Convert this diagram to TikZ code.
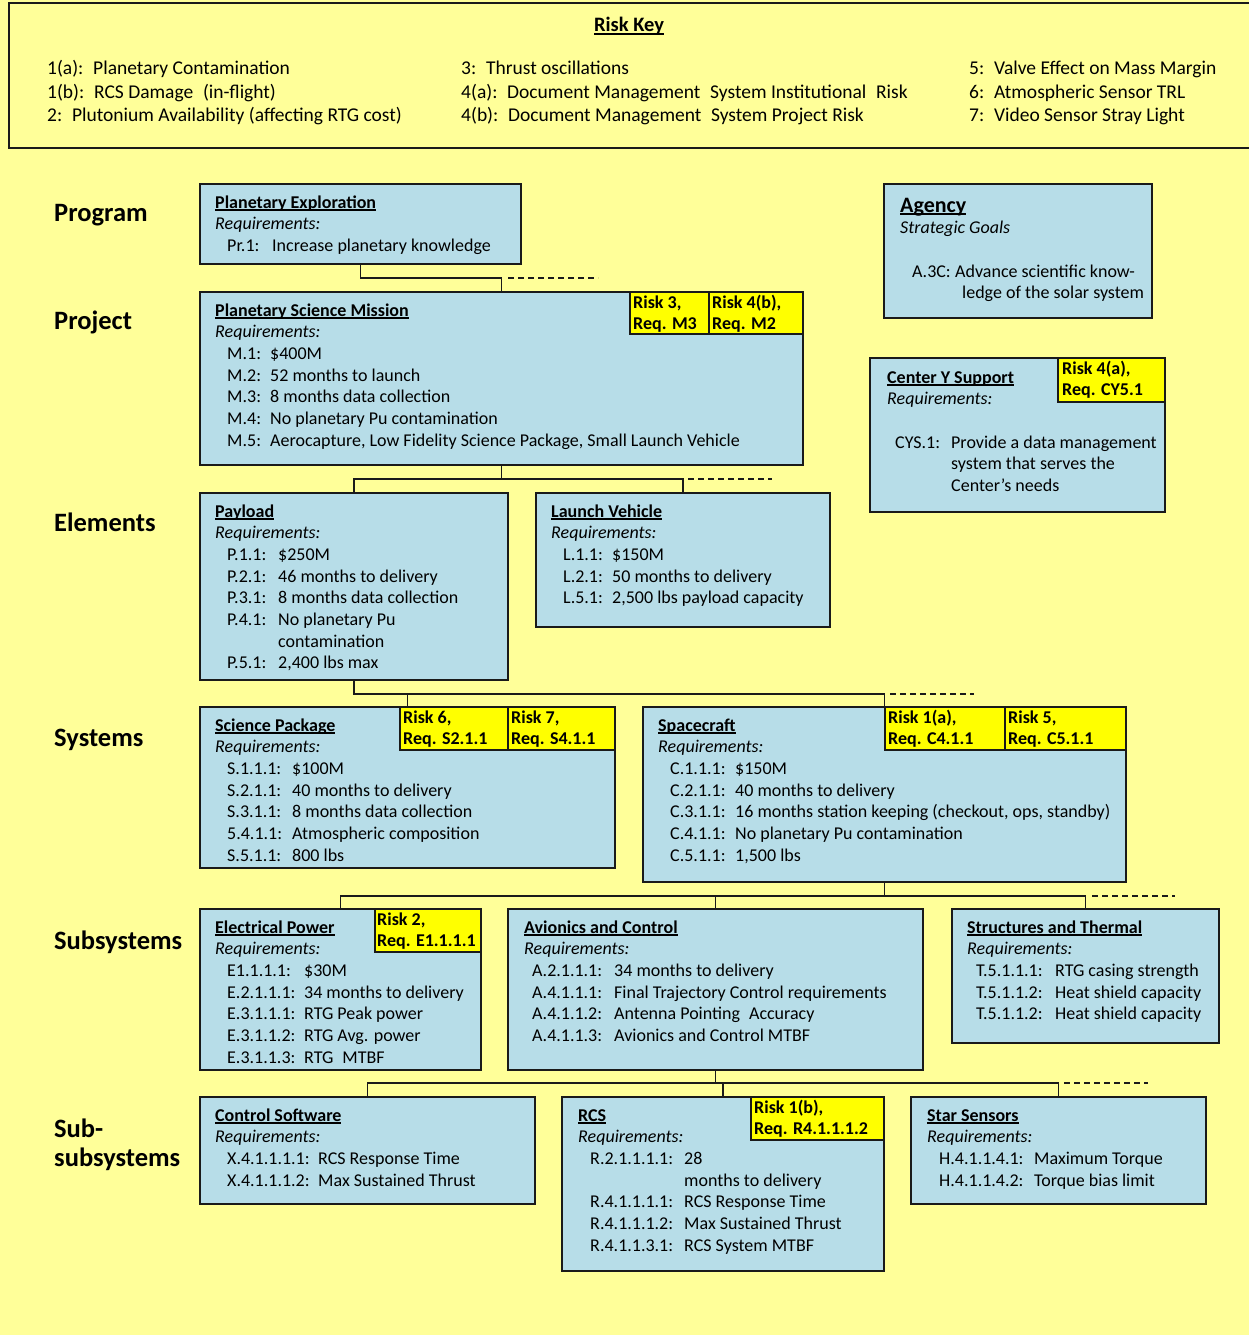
\documentclass[tikz,border=0pt]{standalone}
\usepackage{fontspec}
\setmainfont{Carlito}
\definecolor{bgyellow}{HTML}{FFFF99}
\definecolor{boxblue}{HTML}{B7DDE8}
\definecolor{riskyel}{HTML}{FFFF00}
\definecolor{edge}{HTML}{1A1A1A}
\newcommand\ulb[1]{\setbox0\hbox{\textbf{#1}}\rlap{\rule[-2.6pt]{\wd0}{1.2pt}}\box0}
\newcommand\rqi[4][12pt]{\hspace*{#1}\makebox[#2][l]{#3}#4}
\newcommand\lines[1]{\begin{tabular}[t]{@{}l@{}}#1\end{tabular}}
\newcommand\bodyfs{\fontsize{18}{21.7}\selectfont}
\newcommand\keyfs{\fontsize{19.5}{23.5}\selectfont}
\tikzset{
  box/.style={draw=edge, line width=1.8pt, fill=boxblue, anchor=north west, inner sep=0pt, outer sep=0pt},
  riskbox/.style={box, fill=riskyel},
  txt/.style={anchor=base west, inner sep=0pt, font=\bodyfs},
  keytxt/.style={anchor=base west, inner sep=0pt, font=\keyfs},
  risktxt/.style={anchor=base west, inner sep=0pt, font=\bfseries\fontsize{18}{21}\selectfont},
  lvl/.style={anchor=base west, inner sep=0pt, font=\bfseries\fontsize{26.5}{29}\selectfont},
  conn/.style={draw=edge, line width=1.8pt},
  dashconn/.style={draw=edge, line width=1.8pt, dash pattern=on 6pt off 4pt},
}
\begin{document}
\begin{tikzpicture}[x=1pt,y=-1pt]
\useasboundingbox (0,0) rectangle (1249,1335);
\fill[bgyellow] (0,0) rectangle (1249,1335);

% Risk key
\draw[edge, line width=1.8pt] (1249,3) -- (9,3) -- (9,148) -- (1249,148);
\node[anchor=base, inner sep=0pt, font=\fontsize{20.5}{24}\selectfont] (kt) at (629,32) {\ulb{Risk Key}};
\node[keytxt] (k1) at (47,75) {\lines{1(a):\enspace Planetary Contamination\\1(b):\enspace RCS Damage\enspace(in-flight)\\2:\enspace Plutonium Availability (affecting RTG cost)}};
\node[keytxt] (k2) at (461,75) {\lines{3:\enspace Thrust oscillations\\4(a):\enspace Document Management\enspace System Institutional\enspace Risk\\4(b):\enspace Document Management\enspace System Project Risk}};
\node[keytxt] (k3) at (969,75) {\lines{5:\enspace Valve Effect on Mass Margin\\6:\enspace Atmospheric Sensor TRL\\7:\enspace Video Sensor Stray Light}};

% Level labels
\node[lvl] (l1) at (54,221) {Program};
\node[lvl] (l2) at (54,329) {Project};
\node[lvl] (l3) at (54,531) {Elements};
\node[lvl] (l4) at (54,746) {Systems};
\node[lvl] (l5) at (54,949) {Subsystems};
\node[lvl] (l6) at (54,1137) {\lines{Sub-\\subsystems}};

% Boxes
\node[box, minimum width=321pt, minimum height=80pt] (pe) at (200,184) {};
\node[box, minimum width=603pt, minimum height=173pt] (psm) at (200,292) {};
\node[riskbox, minimum width=79pt, minimum height=42pt] (r3) at (630,292) {};
\node[riskbox, minimum width=94pt, minimum height=42pt] (r4b) at (709,292) {};
\node[box, minimum width=268pt, minimum height=134pt] (ag) at (884,184) {};
\node[box, minimum width=295pt, minimum height=154pt] (cys) at (870,358) {};
\node[riskbox, minimum width=107pt, minimum height=44pt] (r4a) at (1058,358) {};
\node[box, minimum width=308pt, minimum height=187pt] (pay) at (200,493) {};
\node[box, minimum width=294pt, minimum height=134pt] (lv) at (536,493) {};
\node[box, minimum width=415pt, minimum height=161pt] (sp) at (200,707) {};
\node[riskbox, minimum width=108pt, minimum height=43pt] (r6) at (400,707) {};
\node[riskbox, minimum width=107pt, minimum height=43pt] (r7) at (508,707) {};
\node[box, minimum width=483pt, minimum height=175pt] (sc) at (643,707) {};
\node[riskbox, minimum width=120pt, minimum height=43pt] (r1a) at (885,707) {};
\node[riskbox, minimum width=121pt, minimum height=43pt] (r5) at (1005,707) {};
\node[box, minimum width=281pt, minimum height=161pt] (ep) at (200,909) {};
\node[riskbox, minimum width=106pt, minimum height=43pt] (r2) at (375,909) {};
\node[box, minimum width=415pt, minimum height=161pt] (ac) at (508,909) {};
\node[box, minimum width=267pt, minimum height=134pt] (st) at (952,909) {};
\node[box, minimum width=335pt, minimum height=107pt] (cs) at (200,1097) {};
\node[box, minimum width=322pt, minimum height=174pt] (rcs) at (562,1097) {};
\node[riskbox, minimum width=133pt, minimum height=43pt] (r1b) at (751,1097) {};
\node[box, minimum width=295pt, minimum height=107pt] (ss) at (911,1097) {};

% Risk texts
\node[risktxt] (r3-t) at (633,308) {\lines{Risk 3,\\Req. M3}};
\node[risktxt] (r4b-t) at (712,308) {\lines{Risk 4(b),\\Req. M2}};
\node[risktxt] (r4a-t) at (1062,374) {\lines{Risk 4(a),\\Req. CY5.1}};
\node[risktxt] (r6-t) at (403,723) {\lines{Risk 6,\\Req. S2.1.1}};
\node[risktxt] (r7-t) at (511,723) {\lines{Risk 7,\\Req. S4.1.1}};
\node[risktxt] (r1a-t) at (888,723) {\lines{Risk 1(a),\\Req. C4.1.1}};
\node[risktxt] (r5-t) at (1008,723) {\lines{Risk 5,\\Req. C5.1.1}};
\node[risktxt] (r2-t) at (377,925) {\lines{Risk 2,\\Req. E1.1.1.1}};
\node[risktxt] (r1b-t) at (754,1113) {\lines{Risk 1(b),\\Req. R4.1.1.1.2}};

% Box texts
\node[txt] (pe-t) at (215,208) {\lines{\ulb{Planetary Exploration}\\\textit{Requirements:}\\
 \rqi{45pt}{Pr.1:}{Increase planetary knowledge}}};
\node[txt] (psm-t) at (215,316) {\lines{\ulb{Planetary Science Mission}\\\textit{Requirements:}\\
 \rqi{43pt}{M.1:}{\$400M}\\
 \rqi{43pt}{M.2:}{52 months to launch}\\
 \rqi{43pt}{M.3:}{8 months data collection}\\
 \rqi{43pt}{M.4:}{No planetary Pu contamination}\\
 \rqi{43pt}{M.5:}{Aerocapture, Low Fidelity Science Package, Small Launch Vehicle}}};
\node[txt] (ag-t) at (900,212) {\lines{{\fontsize{22}{22}\selectfont\ulb{Agency}}\\\textit{Strategic Goals}\\ \\
 \rqi{43pt}{A.3C:}{Advance scientific know-}\\
 \rqi{50pt}{}{ledge of the solar system}}};
\node[txt] (cys-t) at (887,383) {\lines{\ulb{Center Y Support}\\\textit{Requirements:}\\ \\
 \rqi[8pt]{56pt}{CYS.1:}{Provide a data management}\\
 \rqi[8pt]{56pt}{}{system that serves the}\\
 \rqi[8pt]{56pt}{}{Center’s needs}}};
\node[txt] (pay-t) at (215,517) {\lines{\ulb{Payload}\\\textit{Requirements:}\\
 \rqi{51pt}{P.1.1:}{\$250M}\\
 \rqi{51pt}{P.2.1:}{46 months to delivery}\\
 \rqi{51pt}{P.3.1:}{8 months data collection}\\
 \rqi{51pt}{P.4.1:}{No planetary Pu}\\
 \rqi{51pt}{}{contamination}\\
 \rqi{51pt}{P.5.1:}{2,400 lbs max}}};
\node[txt] (lv-t) at (551,517) {\lines{\ulb{Launch Vehicle}\\\textit{Requirements:}\\
 \rqi{49pt}{L.1.1:}{\$150M}\\
 \rqi{49pt}{L.2.1:}{50 months to delivery}\\
 \rqi{49pt}{L.5.1:}{2,500 lbs payload capacity}}};
\node[txt] (sp-t) at (215,731) {\lines{\ulb{Science Package}\\\textit{Requirements:}\\
 \rqi{65pt}{S.1.1.1:}{\$100M}\\
 \rqi{65pt}{S.2.1.1:}{40 months to delivery}\\
 \rqi{65pt}{S.3.1.1:}{8 months data collection}\\
 \rqi{65pt}{5.4.1.1:}{Atmospheric composition}\\
 \rqi{65pt}{S.5.1.1:}{800 lbs}}};
\node[txt] (sc-t) at (658,731) {\lines{\ulb{Spacecraft}\\\textit{Requirements:}\\
 \rqi{65pt}{C.1.1.1:}{\$150M}\\
 \rqi{65pt}{C.2.1.1:}{40 months to delivery}\\
 \rqi{65pt}{C.3.1.1:}{16 months station keeping (checkout, ops, standby)}\\
 \rqi{65pt}{C.4.1.1:}{No planetary Pu contamination}\\
 \rqi{65pt}{C.5.1.1:}{1,500 lbs}}};
\node[txt] (ep-t) at (215,933) {\lines{\ulb{Electrical Power}\\\textit{Requirements:}\\
 \rqi{77pt}{E1.1.1.1:}{\$30M}\\
 \rqi{77pt}{E.2.1.1.1:}{34 months to delivery}\\
 \rqi{77pt}{E.3.1.1.1:}{RTG Peak power}\\
 \rqi{77pt}{E.3.1.1.2:}{RTG Avg. power}\\
 \rqi{77pt}{E.3.1.1.3:}{RTG\enspace MTBF}}};
\node[txt] (ac-t) at (524,933) {\lines{\ulb{Avionics and Control}\\\textit{Requirements:}\\
 \rqi[8pt]{82pt}{A.2.1.1.1:}{34 months to delivery}\\
 \rqi[8pt]{82pt}{A.4.1.1.1:}{Final Trajectory Control requirements}\\
 \rqi[8pt]{82pt}{A.4.1.1.2:}{Antenna Pointing\enspace Accuracy}\\
 \rqi[8pt]{82pt}{A.4.1.1.3:}{Avionics and Control MTBF}}};
\node[txt] (st-t) at (967,933) {\lines{\ulb{Structures and Thermal}\\\textit{Requirements:}\\
 \rqi[9pt]{79pt}{T.5.1.1.1:}{RTG casing strength}\\
 \rqi[9pt]{79pt}{T.5.1.1.2:}{Heat shield capacity}\\
 \rqi[9pt]{79pt}{T.5.1.1.2:}{Heat shield capacity}}};
\node[txt] (cs-t) at (215,1121) {\lines{\ulb{Control Software}\\\textit{Requirements:}\\
 \rqi{91pt}{X.4.1.1.1.1:}{RCS Response Time}\\
 \rqi{91pt}{X.4.1.1.1.2:}{Max Sustained Thrust}}};
\node[txt] (rcs-t) at (578,1121) {\lines{\ulb{RCS}\\\textit{Requirements:}\\
 \rqi{94pt}{R.2.1.1.1.1:}{28}\\
 \rqi{94pt}{}{months to delivery}\\
 \rqi{94pt}{R.4.1.1.1.1:}{RCS Response Time}\\
 \rqi{94pt}{R.4.1.1.1.2:}{Max Sustained Thrust}\\
 \rqi{94pt}{R.4.1.1.3.1:}{RCS System MTBF}}};
\node[txt] (ss-t) at (927,1121) {\lines{\ulb{Star Sensors}\\\textit{Requirements:}\\
 \rqi{95pt}{H.4.1.1.4.1:}{Maximum Torque}\\
 \rqi{95pt}{H.4.1.1.4.2:}{Torque bias limit}}};

% Bus levels and dashed ends
\coordinate (b1) at (0,278);
\coordinate (b2) at (0,479);
\coordinate (b3) at (0,694);
\coordinate (b4) at (0,896);
\coordinate (b5) at (0,1083);
\coordinate (d1s) at (508,278); \coordinate (d1e) at (598,278);
\coordinate (d2s) at (688,479); \coordinate (d2e) at (772,479);
\coordinate (d3s) at (890,694); \coordinate (d3e) at (974,694);
\coordinate (d4s) at (1092,896); \coordinate (d4e) at (1175,896);
\coordinate (d5s) at (1064,1083); \coordinate (d5e) at (1148,1083);

% Connectors
\draw[conn] (pe.south) -- (pe.south |- b1) -| (psm.north);
\draw[dashconn] (d1s) -- (d1e);

\draw[conn] (psm.south) -- (psm.south |- b2);
\draw[conn] (pay.north) |- (lv.north |- b2) -- (lv.north);
\draw[dashconn] (d2s) -- (d2e);

\draw[conn] (pay.south) |- (sc.north |- b3) -- (sc.north);
\draw[conn] (sp.north) -- (sp.north |- b3);
\draw[dashconn] (d3s) -- (d3e);

\draw[conn] (sc.south) -- (sc.south |- b4);
\draw[conn] (ep.north) |- (st.north |- b4) -- (st.north);
\draw[conn] (ac.north) -- (ac.north |- b4);
\draw[dashconn] (d4s) -- (d4e);

\draw[conn] (ac.south) -- (ac.south |- b5);
\draw[conn] (cs.north) |- (ss.north |- b5) -- (ss.north);
\draw[conn] (rcs.north) -- (rcs.north |- b5);
\draw[dashconn] (d5s) -- (d5e);
\end{tikzpicture}
\end{document}
